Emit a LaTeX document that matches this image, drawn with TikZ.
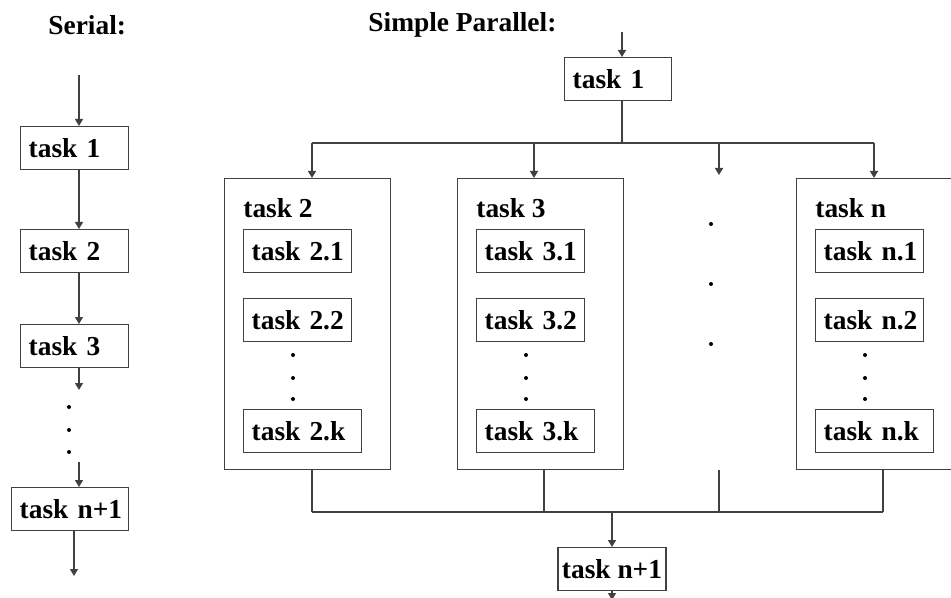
\documentclass[tikz,border=0pt]{standalone}
\usepackage{fontspec}
\setmainfont{Liberation Serif}
\usetikzlibrary{arrows.meta}

\tikzset{
  every node/.style={font=\fontsize{13.7}{16}\selectfont\bfseries},
  taskbox/.style={draw=black!75, line width=0.7pt, anchor=north west, minimum height=21.5pt,
    inner xsep=4pt, inner ysep=0pt, text width=46pt, align=left},
  groupbox/.style={draw=black!75, line width=0.7pt, anchor=north west, inner sep=0pt,
    minimum width=83pt, minimum height=145.5pt},
  grouplabel/.style={anchor=west, inner sep=0pt},
  title/.style={anchor=west, inner sep=0pt},
  flow/.style={draw=black!75, line width=0.7pt, -{Triangle[length=3.5pt,width=4pt]}},
  wire/.style={draw=black!75, line width=0.7pt}
}

\begin{document}
\begin{tikzpicture}[x=0.5pt, y=-0.5pt]
			%%%%% START %%%%%
			\useasboundingbox (0,0) rectangle (951,598);
			\clip (0,0) rectangle (951,598);
			
			% serial
			\node[title] (ser) at (48,25) {Serial:};
			\node[taskbox] (s1) at (20,126) {task~1};
			\node[taskbox] (s2) at (20,229) {task~2};
			\node[taskbox] (s3) at (20,324) {task~3};
			\node[taskbox, text width=50.5pt] (sn) at (11,487) {task~n+1};
			
			\coordinate (sx) at (79,0);
			\coordinate (sin) at (79,75);
			\coordinate (sgap1) at (79,390);
			\coordinate (sgap2) at (79,462);
			\coordinate (sout) at (74,576);
			
			\draw[flow] (sin) -- (s1.north -| sx);
			\draw[flow] (s1.south -| sx) -- (s2.north -| sx);
			\draw[flow] (s2.south -| sx) -- (s3.north -| sx);
			\draw[flow] (s3.south -| sx) -- (sgap1);
			\draw[flow] (sgap2) -- (sn.north -| sx);
			\draw[flow] (sn.south -| sout) -- (sout);
			\foreach \y in {407,430,452} \fill (69,\y) circle (1pt);
			
			% simple parallel
			\node[title] (par) at (368,25) {Simple Parallel:};
			\node[taskbox, text width=45.5pt] (p1) at (564,57) {task~1};
			
			\foreach \g/\x in {2/224,3/457,n/796}{
				\node[groupbox] (g\g) at (\x,178) {};
				\node[grouplabel] (l\g) at (\x+19,208) {task~\g};
				\node[taskbox] (t\g1) at (\x+19,229) {task~\g.1};
				\node[taskbox] (t\g2) at (\x+19,298) {task~\g.2};
				\node[taskbox, text width=51pt] (t\g k) at (\x+19,409) {task~\g.k};
				\foreach \y in {355,378,399} \fill (\x+69,\y) circle (1pt);
			}
			\foreach \y in {224,284,344} \fill (711,\y) circle (1pt);
			
			\node[taskbox, anchor=north, text width=, minimum width=54pt, inner xsep=2pt, align=center] (pn) at (612,547) {task~n+1};
			
			% fork
			\coordinate (pin) at (622,32);
			\coordinate (fork) at (622,143);
			\foreach \g/\x in {2/312,3/534,d/719,n/874} \coordinate (in\g) at (\x,143);
			\draw[flow] (pin) -- (pin |- p1.north);
			\draw[wire] (p1.south -| fork) -- (fork);
			\draw[wire] (in2) -- (inn);
			\draw[flow] (in2) -- (in2 |- g2.north);
			\draw[flow] (in3) -- (in3 |- g3.north);
			\draw[flow] (ind) -- ++(0,32);
			\draw[flow] (inn) -- (inn |- gn.north);
			
			% join
			\foreach \g/\x in {2/312,3/544,d/719,n/883} \coordinate (out\g) at (\x,512);
			\coordinate (join) at (612,512);
			\coordinate (pout) at (612,600);
			\draw[wire] (out2 |- g2.south) -- (out2);
			\draw[wire] (out3 |- g3.south) -- (out3);
			\draw[wire] (outd |- g3.south) -- (outd);
			\draw[wire] (outn |- gn.south) -- (outn);
			\draw[wire] (out2) -- (outn);
			\draw[flow] (join) -- (pn.north);
			\draw[flow] (pn.south) -- (pout);
			
			%%%%% END %%%%%
\end{tikzpicture}
\end{document}
